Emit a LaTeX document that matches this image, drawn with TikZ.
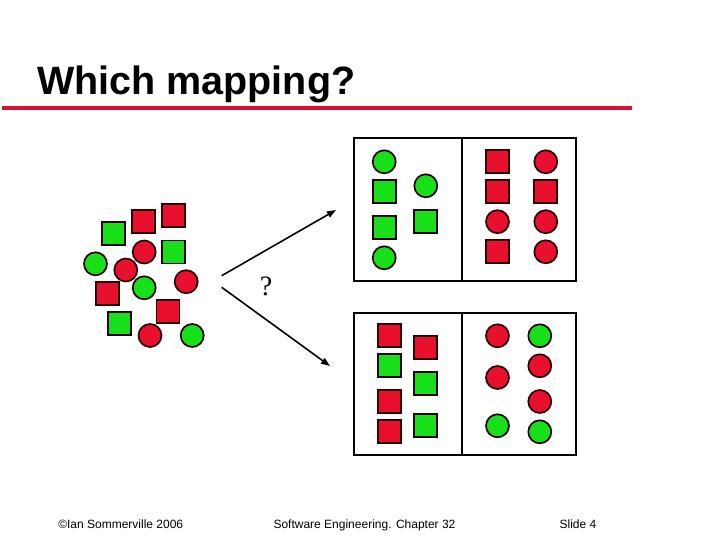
\documentclass[tikz,border=0pt]{standalone}
\usepackage{fontspec}
\setmainfont{Liberation Sans}
\newfontfamily\qmarkfont{Liberation Serif}
\usetikzlibrary{arrows.meta}
\definecolor{objred}{RGB}{232,16,44}
\definecolor{objgreen}{RGB}{24,224,24}
\definecolor{rulered}{RGB}{220,16,48}

\begin{document}
\begin{tikzpicture}[x=1pt,y=-1pt,obj/.style={draw=black!85!red,line width=1.7pt,inner sep=0pt,outer sep=0pt,minimum size=23pt},rsq/.style={obj,rectangle,fill=objred},gsq/.style={obj,rectangle,fill=objgreen},rci/.style={obj,circle,fill=objred},gci/.style={obj,circle,fill=objgreen},panel/.style={draw,line width=2pt,inner sep=0pt,outer sep=0pt,minimum width=221.4pt,minimum height=142.4pt},guess/.style={line width=1.6pt,-{Triangle[length=9pt,width=6.5pt]}},foot/.style={font=\fontsize{12}{14}\selectfont,anchor=base,inner sep=0pt}]
\useasboundingbox (0,0) rectangle (720,540);
\node[anchor=base west,inner sep=0pt,font=\fontsize{39.5}{40}\selectfont\bfseries] (title) at (37,95) {Which mapping?};
\draw[rulered,line width=4pt] (2,108) -- (632,108);
% unsorted objects
\foreach \s/\x/\y [count=\i] in {gsq/113.7/233.7,rsq/143.7/221.7,rsq/173.8/215.3,rci/144.2/252,gsq/173.8/252,gci/95.5/263.8,rci/125.8/270,rci/186.2/281.7,gci/144.2/287.8,rsq/107.8/293.8,rsq/168/311.3,gsq/119.8/323.8,rci/150/335.5,gci/192.2/335.5}
  \node[\s] (pile\i) at (\x,\y) {};
% two candidate mappings
\node[panel] (top) at (465,209.5) {};
\node[panel] (bottom) at (465,383.7) {};
\coordinate (split) at (461.7,0);
\draw[line width=2pt] (split |- top.north) -- (split |- top.south);
\draw[line width=2pt] (split |- bottom.north) -- (split |- bottom.south);
\foreach \s/\x/\y [count=\i] in {gci/384.2/161.8,gsq/384.2/191.7,gsq/384.2/227.8,gci/384.2/257.8,gci/425.8/185.8,gsq/425.8/221.7,rsq/497.5/161.8,rci/545.8/161.8,rsq/497.5/191.7,rsq/545.8/191.7,rci/497.5/221.7,rci/545.8/221.7,rsq/497.5/251.8,rci/545.8/251.8}
  \node[\s] (up\i) at (\x,\y) {};
\foreach \s/\x/\y [count=\i] in {rsq/389.8/335.8,gsq/389.8/365.8,rsq/389.8/401.7,rsq/389.8/431.8,rsq/425.8/347.5,gsq/425.8/383.5,gsq/425.8/425.8,rci/497.5/335.8,gci/539.8/335.8,rci/497.5/377.5,rci/539.8/365.8,rci/539.8/401.5,gci/497.5/425.8,gci/539.8/431.8}
  \node[\s] (down\i) at (\x,\y) {};
\coordinate (fork up) at (221.7,275.7);
\coordinate (fork down) at (221.7,287.3);
\coordinate (to top) at (336,210);
\coordinate (to bottom) at (330,366);
\draw[guess] (fork up) -- (to top);
\draw[guess] (fork down) -- (to bottom);
\node[font=\qmarkfont\fontsize{28}{28}\selectfont,inner sep=0pt] (ask) at (266,286) {?};
\node[foot] (author) at (120.7,528) {©Ian Sommerville 2006};
\node[foot] (book) at (364.5,528) {Software Engineering. Chapter 32};
\node[foot] (slide) at (578,528) {Slide 4};
\end{tikzpicture}
\end{document}
